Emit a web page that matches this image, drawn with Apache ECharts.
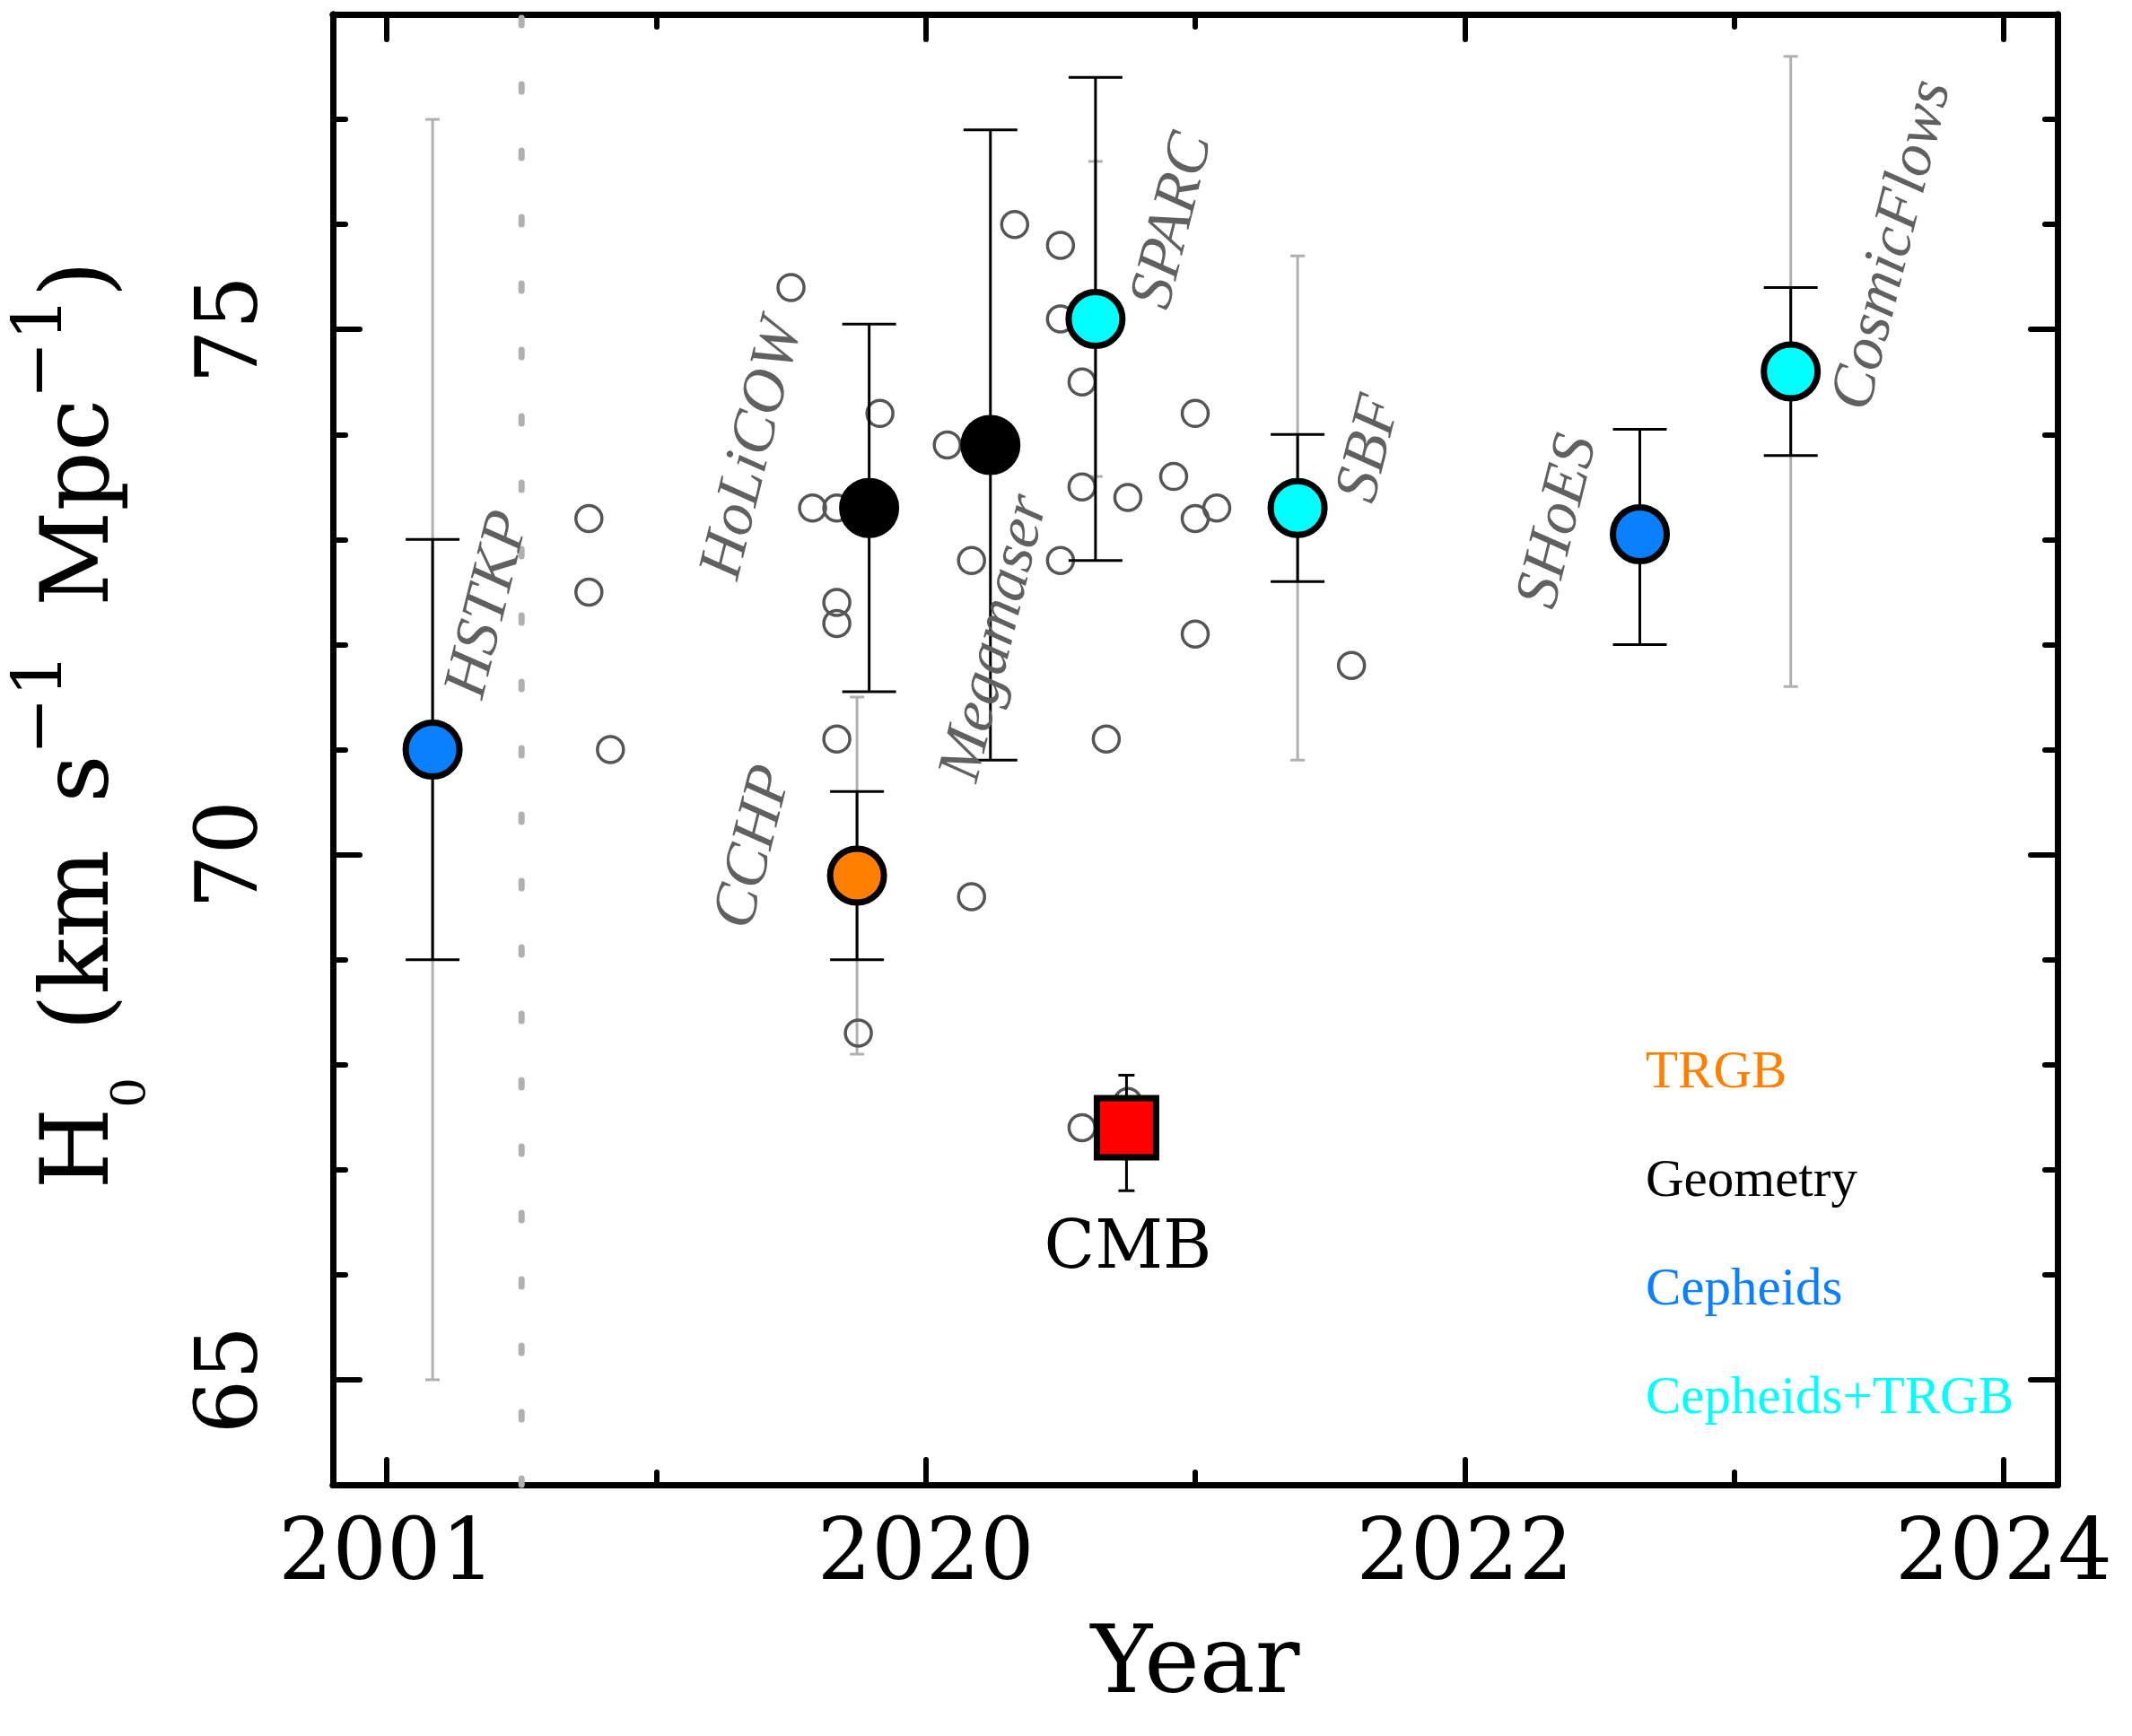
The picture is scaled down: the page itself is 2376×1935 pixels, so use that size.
<!DOCTYPE html>
<html>
<head>
<meta charset="utf-8">
<title>H0 vs year</title>
<script src="https://cdn.jsdelivr.net/npm/echarts@6/dist/echarts.min.js"></script>
<style>
  html, body { margin: 0; padding: 0; background: #fff; }
  #chart { width: 2376px; height: 1935px; }
</style>
</head>
<body>
<div id="chart"></div>
<script>
// one big point per method (2018 on the axis stands for 2001)
const methodName = ['HSTKP', 'CCHP', 'HoLiCOW', 'Megamaser', 'SPARC', 'SBF', 'SHoES', 'CosmicFlows'];
const methodClass = ['Cepheids', 'TRGB', 'Geometry', 'Geometry', 'Cepheids+TRGB', 'Cepheids+TRGB', 'Cepheids', 'Cepheids+TRGB'];
const methodYear = [2018.17, 2019.745, 2019.79, 2020.24, 2020.63, 2021.38, 2022.65, 2023.21];
const methodH0 = [71.0, 69.8, 73.3, 73.9, 75.1, 73.3, 73.05, 74.6];
const statLow = [69.0, 69.0, 71.55, 70.9, 72.8, 72.6, 72.0, 73.8];
const statHigh = [73.0, 70.6, 75.05, 76.9, 77.4, 74.0, 74.05, 75.4];
const sysLow = [65.0, 68.1, null, null, 73.6, 70.9, null, 71.6];
const sysHigh = [77.0, 71.5, null, null, 76.6, 75.7, null, 77.6];

// where the method names sit
const labelYear = [2018.38, 2019.365, 2019.36, 2020.26, 2020.92, 2021.65, 2022.35, 2023.59];
const labelH0 = [72.38, 70.07, 73.86, 72.06, 76.03, 73.86, 73.17, 75.80];

// CMB
const cmbYear = [2020.745];
const cmbH0 = [67.4];
const cmbLow = [66.8];
const cmbHigh = [67.9];
const cmbLabel = ['CMB'];
const cmbLabelYear = [2020.75];
const cmbLabelH0 = [66.23];

// single measurements (small open circles)
const otherYear = [2018.75, 2018.75, 2018.83, 2019.50, 2019.58, 2019.67, 2019.67, 2019.67, 2019.67, 2019.75,
  2019.83, 2020.08, 2020.17, 2020.17, 2020.33, 2020.50, 2020.50, 2020.50, 2020.58, 2020.58,
  2020.58, 2020.67, 2020.75, 2020.75, 2020.92, 2021.00, 2021.00, 2021.00, 2021.08, 2021.58];
const otherH0 = [73.2, 72.5, 71.0, 75.4, 73.3, 73.3, 72.4, 72.2, 71.1, 68.3,
  74.2, 73.9, 72.8, 69.6, 76.0, 75.8, 75.1, 72.8, 74.5, 73.5,
  67.4, 71.1, 73.4, 67.65, 73.6, 74.2, 73.2, 72.1, 73.3, 71.8];

const breakYear = [2018.5];
const xMajorTicks = [2018, 2020, 2022, 2024];
const xMinorTicks = [2019, 2021, 2023];
const xTickText = { 2018: '2001', 2020: '2020', 2022: '2022', 2024: '2024' };
const yMajorTicks = [65, 70, 75];
const yMinorTicks = [66, 67, 68, 69, 71, 72, 73, 74, 76, 77];

const classNames = ['TRGB', 'Geometry', 'Cepheids', 'Cepheids+TRGB'];
const classColors = { 'TRGB': '#ff8000', 'Geometry': '#000000', 'Cepheids': '#0a80ff', 'Cepheids+TRGB': '#00ffff' };

const tickFont = 'DejaVu Serif';
const myChart = echarts.init(document.getElementById('chart'));

function errorBar(color, width, capHalf) {
  return function (params, api) {
    const x = api.value(0);
    const lo = api.coord([x, api.value(1)]);
    const hi = api.coord([x, api.value(2)]);
    const st = { stroke: color, lineWidth: width };
    return {
      type: 'group',
      children: [
        { type: 'line', shape: { x1: lo[0], y1: lo[1], x2: hi[0], y2: hi[1] }, style: st },
        { type: 'line', shape: { x1: lo[0] - capHalf, y1: lo[1], x2: lo[0] + capHalf, y2: lo[1] }, style: st },
        { type: 'line', shape: { x1: hi[0] - capHalf, y1: hi[1], x2: hi[0] + capHalf, y2: hi[1] }, style: st },
      ],
    };
  };
}

// vertical dashed line over the full plot height
function breakLine(params, api) {
  const cs = params.coordSys;
  const x = api.coord([api.value(0), 70])[0];
  return {
    type: 'line',
    shape: { x1: x, y1: cs.y + 4, x2: x, y2: cs.y + cs.height },
    style: { stroke: '#b0b0b0', lineWidth: 7, lineDash: [8, 66], lineCap: 'round' },
  };
}

// text placed at a data position
function textAt(texts, deg, font) {
  return function (params, api) {
    const p = api.coord([api.value(0), api.value(1)]);
    return {
      type: 'text',
      x: p[0], y: p[1],
      rotation: deg * Math.PI / 180,
      style: Object.assign({ text: texts[params.dataIndex], align: 'center', verticalAlign: 'middle' }, font),
    };
  };
}

function xAxisDef(pos, ticks, len, withLabel) {
  return {
    type: 'value', position: pos, min: 2017.8, max: 2024.2,
    axisLine: { show: true, onZero: false, lineStyle: { color: '#000', width: 7 } },
    axisTick: { show: true, inside: true, length: len, customValues: ticks, lineStyle: { color: '#000', width: 6, cap: 'round' } },
    axisLabel: withLabel ? {
      show: true, customValues: ticks, margin: 33,
      formatter: (v) => xTickText[v],
      fontFamily: tickFont, fontSize: 95, color: '#000',
    } : { show: false },
    splitLine: { show: false },
    name: withLabel ? 'Year' : '',
    nameLocation: 'middle', nameGap: 152,
    nameTextStyle: { fontFamily: tickFont, fontSize: 104, color: '#000' },
  };
}

function yAxisDef(pos, ticks, len, withLabel) {
  return {
    type: 'value', position: pos, min: 64, max: 78,
    axisLine: { show: true, onZero: false, lineStyle: { color: '#000', width: 7 } },
    axisTick: { show: true, inside: true, length: len, customValues: ticks, lineStyle: { color: '#000', width: 6, cap: 'round' } },
    axisLabel: withLabel ? {
      show: true, customValues: ticks, rotate: 90, align: 'center', verticalAlign: 'bottom', margin: 62,
      fontFamily: tickFont, fontSize: 95, color: '#000',
    } : { show: false },
    splitLine: { show: false },
  };
}

const classSeries = classNames.map((cls) => ({
  name: cls,
  type: 'scatter',
  z: 5,
  symbol: 'circle',
  symbolSize: 60,
  itemStyle: { color: classColors[cls], borderColor: '#000', borderWidth: 7, opacity: 1 },
  data: methodName
    .map((n, i) => (methodClass[i] === cls ? { name: n, value: [methodYear[i], methodH0[i]] } : null))
    .filter((d) => d),
}));

const option = {
  animation: false,
  backgroundColor: '#fff',
  grid: { left: 371, right: 83, top: 16, bottom: 280 },
  xAxis: [
    xAxisDef('bottom', xMajorTicks, 28, true),
    xAxisDef('bottom', xMinorTicks, 14, false),
    xAxisDef('top', xMajorTicks, 28, false),
    xAxisDef('top', xMinorTicks, 14, false),
  ],
  yAxis: [
    yAxisDef('left', yMajorTicks, 30, true),
    yAxisDef('left', yMinorTicks, 14, false),
    yAxisDef('right', yMajorTicks, 30, false),
    yAxisDef('right', yMinorTicks, 14, false),
  ],
  legend: {
    data: classNames.map((c) => ({ name: c, icon: 'none', textStyle: { color: classColors[c] } })),
    orient: 'vertical',
    left: 1824, top: 1161,
    itemWidth: 0, itemHeight: 60, itemGap: 61,
    selectedMode: false,
    textStyle: { fontFamily: 'Liberation Serif', fontSize: 59, lineHeight: 60 },
  },
  graphic: [{
    type: 'text',
    x: 93, y: 808,
    rotation: Math.PI / 2,
    style: {
      text: '{m|H}{sub|0}{m|\u2002(km\u2002s}{sup|\u22121}{m|\u2002Mpc}{sup|\u22121}{m|)}',
      align: 'center', verticalAlign: 'middle',
      fill: '#000',
      rich: {
        m: { fontFamily: tickFont, fontSize: 104, verticalAlign: 'middle', fill: '#000' },
        sup: { fontFamily: tickFont, fontSize: 77, verticalAlign: 'middle', padding: [0, 0, 90, 0], fill: '#000' },
        sub: { fontFamily: tickFont, fontSize: 53, verticalAlign: 'middle', padding: [108, 0, 0, 0], fill: '#000' },
      },
    },
  }],
  series: [
    {
      name: 'break',
      type: 'custom',
      z: 1,
      renderItem: breakLine,
      encode: { x: 0 },
      data: breakYear.map((x) => [x]),
    },
    {
      name: 'systematic',
      type: 'custom',
      z: 2,
      renderItem: errorBar('#b0b0b0', 3, 8),
      encode: { x: 0, y: [1, 2] },
      data: methodYear
        .map((x, i) => (sysLow[i] === null ? null : [x, sysLow[i], sysHigh[i]]))
        .filter((d) => d),
    },
    {
      name: 'single',
      type: 'scatter',
      z: 3,
      symbol: 'circle',
      symbolSize: 29,
      itemStyle: { color: 'rgba(0,0,0,0)', borderColor: '#555555', borderWidth: 3.5, opacity: 1 },
      data: otherYear.map((x, i) => [x, otherH0[i]]),
    },
    {
      name: 'statistical',
      type: 'custom',
      z: 4,
      renderItem: errorBar('#000', 3, 30),
      encode: { x: 0, y: [1, 2] },
      data: methodYear.map((x, i) => [x, statLow[i], statHigh[i]]),
    },
    {
      name: 'cmbBar',
      type: 'custom',
      z: 4,
      renderItem: errorBar('#000', 3, 9),
      encode: { x: 0, y: [1, 2] },
      data: cmbYear.map((x, i) => [x, cmbLow[i], cmbHigh[i]]),
    },
    ...classSeries,
    {
      name: 'CMB',
      type: 'scatter',
      z: 5,
      symbol: 'rect',
      symbolSize: 66,
      itemStyle: { color: '#ff0000', borderColor: '#000', borderWidth: 7, opacity: 1 },
      data: cmbYear.map((x, i) => [x, cmbH0[i]]),
    },
    {
      name: 'names',
      type: 'custom',
      z: 6,
      renderItem: textAt(methodName, 76, {
        fontFamily: 'Liberation Serif', fontStyle: 'italic', fontSize: 69, fill: '#606060',
      }),
      encode: { x: 0, y: 1 },
      data: labelYear.map((x, i) => [x, labelH0[i]]),
    },
    {
      name: 'cmbName',
      type: 'custom',
      z: 6,
      renderItem: textAt(cmbLabel, 0, { fontFamily: tickFont, fontSize: 74, fill: '#000' }),
      encode: { x: 0, y: 1 },
      data: cmbLabelYear.map((x, i) => [x, cmbLabelH0[i]]),
    },
  ],
};

myChart.setOption(option);
</script>
</body>
</html>
